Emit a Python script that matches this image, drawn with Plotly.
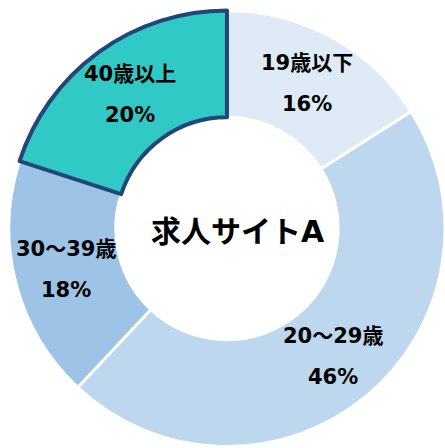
import math
import plotly.graph_objects as go

labels = ["19歳以下", "20～29歳", "30～39歳", "40歳以上"]
values = [16, 46, 18, 20]
percent_labels = ["16%", "46%", "18%", "20%"]
colors = ["#DEEBF7", "#BDD7EE", "#9DC3E6", "#31C9C6"]
line_colors = ["#FFFFFF", "#FFFFFF", "#FFFFFF", "#22467A"]
line_widths = [3, 3, 3, 4]
center_title = "求人サイトA"

W, H = 445, 448
DOM_X = [0.02, 1.0]
DOM_Y = [0.0, 0.98]
HOLE = 0.51
FONT = "DejaVu Sans, Noto Sans CJK JP"

fig = go.Figure(go.Pie(
    labels=labels,
    values=values,
    sort=False,
    direction="clockwise",
    rotation=0,
    hole=HOLE,
    marker=dict(colors=colors, line=dict(color=line_colors, width=line_widths)),
    textinfo="none",
    hoverinfo="label+percent",
    domain=dict(x=DOM_X, y=DOM_Y),
    showlegend=False,
))

# pie geometry in pixels (as plotly lays it out inside its domain)
dw = W * (DOM_X[1] - DOM_X[0])
dh = H * (DOM_Y[1] - DOM_Y[0])
R = min(dw, dh) / 2
cx = W * DOM_X[0] + dw / 2
cy = H * (1 - DOM_Y[1]) + dh / 2
rm = R * 0.76

total = sum(values)
cum = 0
annotations = []
for lab, v, pct in zip(labels, values, percent_labels):
    theta = 2 * math.pi * (cum + v / 2) / total
    cum += v
    px = cx + rm * math.sin(theta)
    py = cy - rm * math.cos(theta)
    xp, yp = px / W, 1 - py / H
    for txt, shift in ((lab, 20.5), (pct, -20.5)):
        annotations.append(dict(
            x=xp, y=yp, xref="paper", yref="paper", text=txt, showarrow=False,
            xanchor="center", yanchor="middle", yshift=shift,
            font=dict(family=FONT, size=21, color="#000000", weight="bold"),
        ))

annotations.append(dict(
    x=cx / W, y=1 - cy / H, xref="paper", yref="paper", text=center_title,
    showarrow=False, xanchor="center", yanchor="middle", xshift=11, yshift=-3,
    font=dict(family=FONT, size=30, color="#000000", weight="bold"),
))

fig.update_layout(
    width=W, height=H,
    margin=dict(l=0, r=0, t=0, b=0),
    paper_bgcolor="white",
    plot_bgcolor="white",
    annotations=annotations,
)

fig.write_html("out.html")
